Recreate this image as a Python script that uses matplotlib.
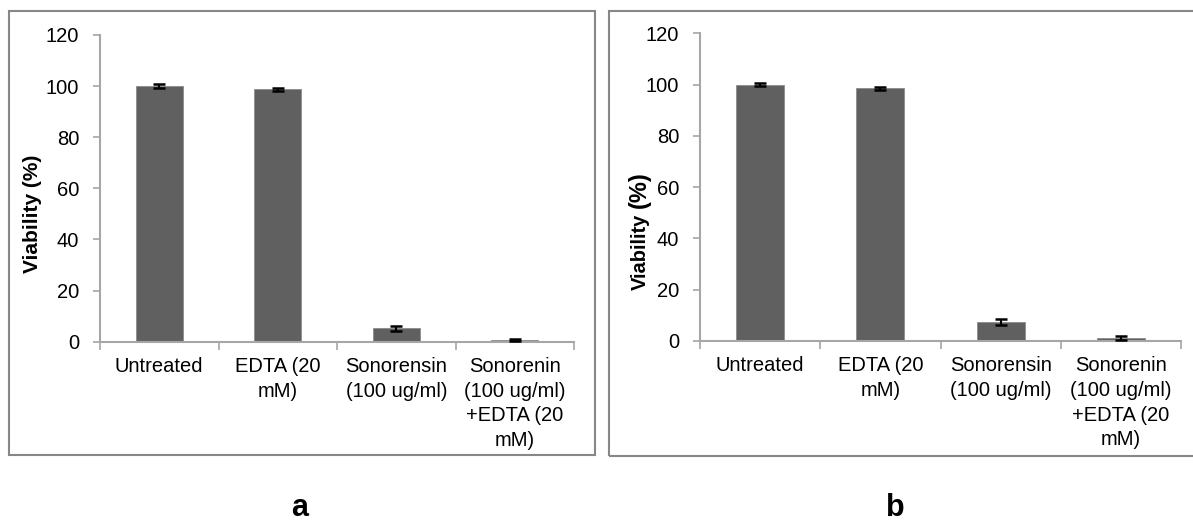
import matplotlib
matplotlib.use("Agg")
import matplotlib.pyplot as plt
from matplotlib.patches import Rectangle

plt.rcParams['font.family'] = ['Liberation Sans', 'DejaVu Sans']

categories = ["Untreated", "EDTA (20\nmM)", "Sonorensin\n(100 ug/ml)",
              "Sonorenin\n(100 ug/ml)\n+EDTA (20\nmM)"]
values_a = [100.0, 98.8, 5.2, 0.5]
errors_a = [0.7, 0.6, 1.1, 0.4]
values_b = [100.0, 98.5, 7.3, 1.2]
errors_b = [0.7, 0.5, 1.1, 0.8]
yticks = [0, 20, 40, 60, 80, 100, 120]
panel_labels = ["a", "b"]

W, H = 1193, 522
fig = plt.figure(figsize=(W / 100, H / 100), dpi=100)
fig.patch.set_facecolor("white")

def px_rect(x0, y0, x1, y1):
    # pixel coords (top-left origin) -> figure fraction [l, b, w, h]
    return [x0 / W, 1 - y1 / H, (x1 - x0) / W, (y1 - y0) / H]

# panel frames
for (x0, y0, x1, y1) in [(9, 11, 595, 455), (609, 11, 1200, 456)]:
    l, b, w, h = px_rect(x0, y0, x1, y1)
    fig.patches.append(Rectangle((l, b), w, h, transform=fig.transFigure,
                                 fill=False, edgecolor="#878787", linewidth=1.5))

axes_px = [(100, 35, 574, 341.7), (700, 33.3, 1181, 341)]
data = [(values_a, errors_a), (values_b, errors_b)]
axis_color = "#a6a6a6"
fs = 14.5

axes = []
for i, ((vals, errs), box) in enumerate(zip(data, axes_px)):
    ax = fig.add_axes(px_rect(*box))
    axes.append(ax)
    ax.set_facecolor("none")
    xs = list(range(len(categories)))
    ax.bar(xs, vals, width=0.4, color="#606060", edgecolor="#8c8c8c", linewidth=0.6, zorder=2)
    ax.errorbar(xs, vals, yerr=errs, fmt="none", ecolor="black", elinewidth=1.5,
                capsize=4.5, capthick=1.8, zorder=3)
    ax.set_xlim(-0.5, len(categories) - 0.5)
    ax.set_ylim(0, 120)
    ax.set_yticks(yticks)
    ax.set_yticklabels([str(t) for t in yticks], fontsize=fs, color="black")
    ax.tick_params(axis="y", direction="out", length=5, width=1.2, color=axis_color, pad=10)
    # x: boundary ticks (major) and centred labels (minor)
    ax.set_xticks([x - 0.5 for x in range(len(categories) + 1)])
    ax.set_xticklabels([])
    ax.tick_params(axis="x", which="major", direction="out", length=6, width=1.2, color=axis_color)
    ax.set_xticks(xs, minor=True)
    ax.set_xticklabels(categories, minor=True, fontsize=fs, linespacing=1.38, ha="center")
    ax.tick_params(axis="x", which="minor", length=0, pad=11)
    for s in ["top", "right"]:
        ax.spines[s].set_visible(False)
    for s in ["left", "bottom"]:
        ax.spines[s].set_color(axis_color)
        ax.spines[s].set_linewidth(1.5)

# panel a: single-size axis title
axes[0].set_ylabel("Viability (%)", fontsize=15, fontweight="bold")
axes[0].yaxis.set_label_coords(-0.122, 0.417)

# panel b: "(%)" drawn larger than "Viability", placed right after it
tr = axes[1].get_yaxis_transform()
t1 = axes[1].text(-0.112, 19.7, "Viability", transform=tr, rotation=90, rotation_mode="anchor",
                  ha="left", va="baseline", fontsize=14.5, fontweight="bold")
fig.canvas.draw()
bb = t1.get_window_extent(renderer=fig.canvas.get_renderer())
top_px = bb.y1 + 6  # one space
y_data = axes[1].transData.inverted().transform((0, top_px))[1]
axes[1].text(-0.112, y_data, "(%)", transform=tr, rotation=90, rotation_mode="anchor",
             ha="left", va="baseline", fontsize=17, fontweight="bold")

fig.text(300 / W, 1 - 508 / H, panel_labels[0], fontsize=22, fontweight="bold", ha="center", va="center")
fig.text(895 / W, 1 - 508 / H, panel_labels[1], fontsize=22, fontweight="bold", ha="center", va="center")

fig.savefig("out.png", dpi=100)
